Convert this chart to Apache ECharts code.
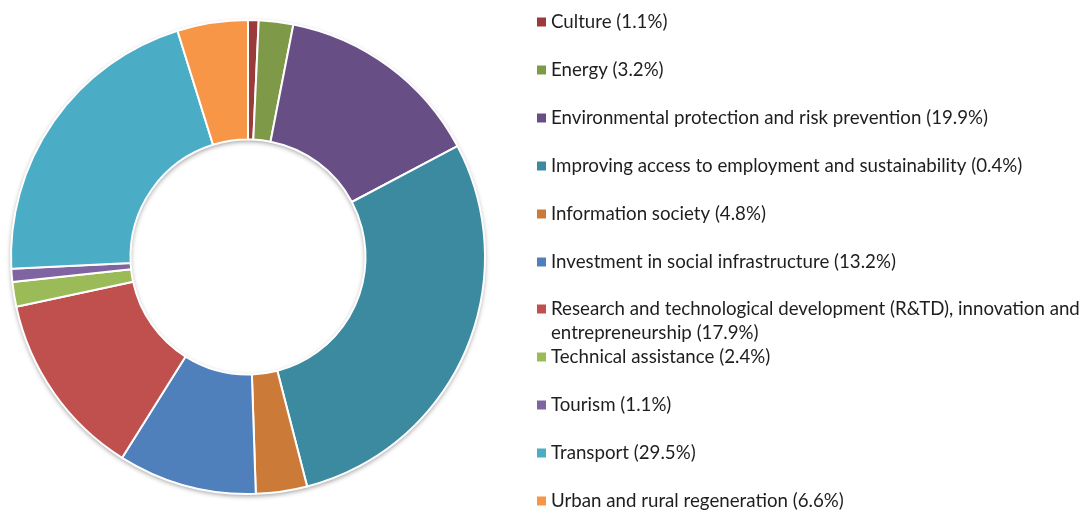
<!DOCTYPE html>
<html style="height: 100%">
<head>
	<meta charset="utf-8">
	<script src="https://cdn.jsdelivr.net/npm/echarts@6/dist/echarts.min.js"></script>
</head>
<body style="height: 100%; margin: 0; background: #fff">
<div id="container" style="width: 1084px; height: 510px"></div>
<script type="text/javascript">
	// slice shares (percent of the circle)
	var names = [
		'Culture (1.1%)',
		'Energy (3.2%)',
		'Environmental protection and risk prevention (19.9%)',
		'Improving access to employment and sustainability (0.4%)',
		'Information society (4.8%)',
		'Investment in social infrastructure (13.2%)',
		'Research and technological development (R&TD), innovation and\nentrepreneurship (17.9%)',
		'Technical assistance (2.4%)',
		'Tourism (1.1%)',
		'Transport (29.5%)',
		'Urban and rural regeneration (6.6%)'
	];
	var values = [0.72, 2.35, 14.18, 28.74, 3.49, 9.44, 12.72, 1.69, 0.88, 20.99, 4.81];
	var colors = ['#9B3A3A', '#7E9A48', '#674F86', '#3B8AA0', '#CB7A37', '#4F80BC',
		'#C0504E', '#9BBB58', '#8064A1', '#4AACC5', '#F79646'];

	var pieData = [];
	for (var i = 0; i < names.length; i++) {
		pieData.push({
			name: names[i],
			value: values[i],
			itemStyle: {color: colors[i]}
		});
	}

	function legendBlock(items, top, fmt) {
		return {
			orient: 'vertical',
			left: 537,
			top: top,
			height: 300,
			padding: 0,
			itemGap: 24,
			itemWidth: 9,
			itemHeight: 9,
			icon: 'rect',
			selectedMode: false,
			itemStyle: {borderWidth: 0},
			formatter: fmt,
			textStyle: {
				fontFamily: 'Lato',
				fontSize: 18.7,
				lineHeight: 24,
				color: '#1e1e1e'
			},
			data: items
		};
	}

	var dom = document.getElementById('container');
	var myChart = echarts.init(dom, null, {renderer: 'canvas'});

	var option = {
		backgroundColor: '#fff',
		animation: false,
		color: colors,
		legend: [
			legendBlock(names.slice(0, 6), 10),
			// two-line item: empty first line keeps the icon on the first text line
			legendBlock(names.slice(6, 7), 273, function (n) { return '\n' + n; }),
			legendBlock(names.slice(7), 345)
		],
		series: [
			{
				// plain white ring under the slices, only to cast the soft shadow
				type: 'pie',
				silent: true,
				z: 1,
				center: [248, 257],
				radius: [117.5, 237],
				label: {show: false},
				labelLine: {show: false},
				itemStyle: {
					color: '#fff',
					shadowBlur: 5,
					shadowOffsetY: 2,
					shadowColor: 'rgba(0,0,0,0.4)'
				},
				data: [{name: '', value: 1}]
			},
			{
				type: 'pie',
				z: 2,
				center: [248, 257],
				radius: [117.5, 237],
				startAngle: 90,
				clockwise: true,
				label: {show: false},
				labelLine: {show: false},
				emphasis: {scale: false},
				itemStyle: {
					borderColor: '#fff',
					borderWidth: 2
				},
				data: pieData
			}
		]
	};

	myChart.setOption(option, true);
</script>
</body>
</html>
